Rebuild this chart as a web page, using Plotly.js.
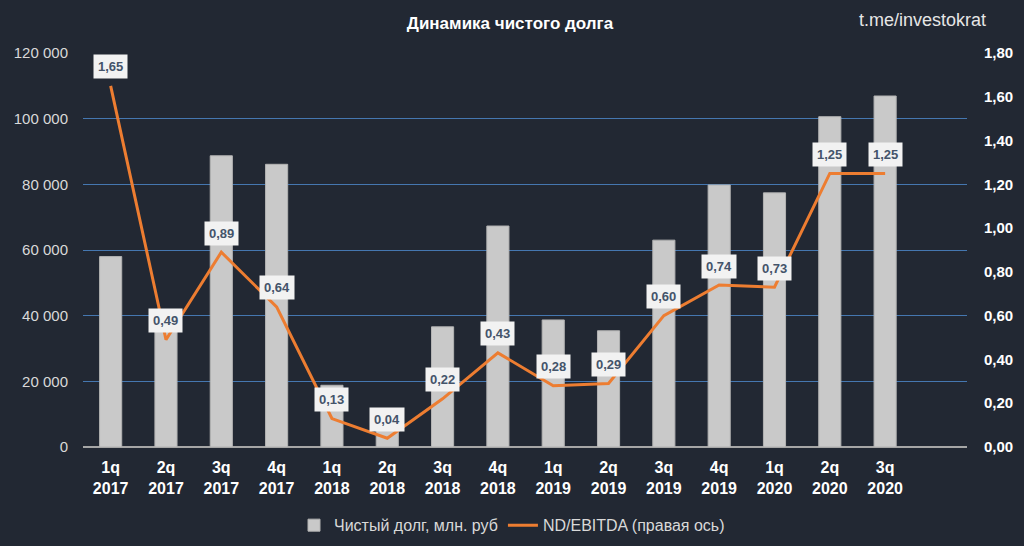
<!DOCTYPE html>
<html>
<head>
<meta charset="utf-8">
<script src="https://cdn.plot.ly/plotly-3.0.1.min.js"></script>
<style>
html,body{margin:0;padding:0;background:#222833;}
#chart{width:1024px;height:546px;}
</style>
</head>
<body>
<div id="chart"></div>
<script>
// Data
const quarters = ['1q','2q','3q','4q','1q','2q','3q','4q','1q','2q','3q','4q','1q','2q','3q'];
const years = ['2017','2017','2017','2017','2018','2018','2018','2018','2019','2019','2019','2019','2020','2020','2020'];
const netDebt = [58000, 36000, 88700, 86100, 18800, 8500, 36600, 67300, 38700, 35400, 63000, 79800, 77400, 100600, 106900];
const ndEbitda = [1.65, 0.49, 0.89, 0.64, 0.13, 0.04, 0.22, 0.43, 0.28, 0.29, 0.60, 0.74, 0.73, 1.25, 1.25];
const leftTicks = [0, 20000, 40000, 60000, 80000, 100000, 120000];
const rightTicks = [0, 0.2, 0.4, 0.6, 0.8, 1.0, 1.2, 1.4, 1.6, 1.8];

const cats = quarters.map((q, i) => q + '<br>' + years[i]);
const fmtComma = v => v.toFixed(2).replace('.', ',');

const FONT = 'Liberation Sans, Arial, sans-serif';

const traces = [
  {
    type: 'bar',
    name: 'Чистый долг, млн. руб',
    x: cats,
    y: netDebt,
    width: 0.4,
    marker: {color: '#c9c9c9', line: {color: '#b3b3b3', width: 1}},
    hoverinfo: 'skip'
  },
  {
    type: 'scatter',
    mode: 'lines',
    name: 'ND/EBITDA (правая ось)',
    x: cats,
    y: ndEbitda,
    yaxis: 'y2',
    line: {color: '#ed7d31', width: 3},
    hoverinfo: 'skip'
  }
];

const annotations = ndEbitda.map((v, i) => ({
  x: cats[i], y: v, xref: 'x', yref: 'y2',
  text: '<b>' + fmtComma(v) + '</b>',
  showarrow: false,
  yshift: 19,
  bgcolor: '#f2f2f2',
  borderpad: 4,
  font: {family: FONT, size: 13, color: '#44546a'}
}));

annotations.push({
  xref: 'paper', yref: 'paper', x: 0.950, y: 1.083, xanchor: 'center', yanchor: 'middle',
  text: 't.me/investokrat', showarrow: false,
  font: {family: FONT, size: 18, color: '#e6e6e6'}
});

const layout = {
  width: 1024, height: 546,
  paper_bgcolor: '#222833',
  plot_bgcolor: '#222833',
  separators: ', ',
  margin: {l: 83, r: 57, t: 53, b: 99},
  title: {
    text: 'Динамика чистого долга',
    x: 0.498, xanchor: 'center', y: 0.958, yanchor: 'middle',
    font: {family: FONT, size: 17, color: '#ffffff', weight: 'bold'}
  },
  font: {family: FONT, color: '#d9d9d9'},
  showlegend: true,
  legend: {
    orientation: 'h', xref: 'container', yref: 'container',
    x: 0.5, xanchor: 'center', y: 0.038, yanchor: 'middle',
    font: {family: FONT, size: 16, color: '#d9d9d9'},
    bgcolor: 'rgba(0,0,0,0)',
    traceorder: 'normal'
  },
  xaxis: {
    type: 'category',
    range: [-0.5, 15.48],
    automargin: false,
    showgrid: false,
    zeroline: false,
    showline: false,
    ticks: '',
    ticklabelstandoff: 9,
    tickfont: {family: FONT, size: 16, color: '#ffffff', weight: 'bold'}
  },
  yaxis: {
    range: [0, 120000],
    automargin: false,
    tickvals: leftTicks,
    ticktext: leftTicks.map(v => v === 0 ? '0' : (v/1000) + ' 000'),
    showgrid: true,
    gridcolor: '#4577b0',
    gridwidth: 1,
    zeroline: true,
    zerolinecolor: '#a6a6a6',
    zerolinewidth: 2,
    ticks: '',
    ticklabelstandoff: 14,
    tickfont: {family: FONT, size: 15, color: '#d9d9d9'}
  },
  yaxis2: {
    overlaying: 'y',
    side: 'right',
    range: [0, 1.8],
    automargin: false,
    tickvals: rightTicks,
    ticktext: rightTicks.map(fmtComma),
    showgrid: false,
    zeroline: false,
    ticks: '',
    ticklabelstandoff: 16,
    tickfont: {family: FONT, size: 15, color: '#ffffff', weight: 'bold'}
  },
  annotations: annotations
};

Plotly.newPlot('chart', traces, layout, {displayModeBar: false, staticPlot: true});
</script>
</body>
</html>
